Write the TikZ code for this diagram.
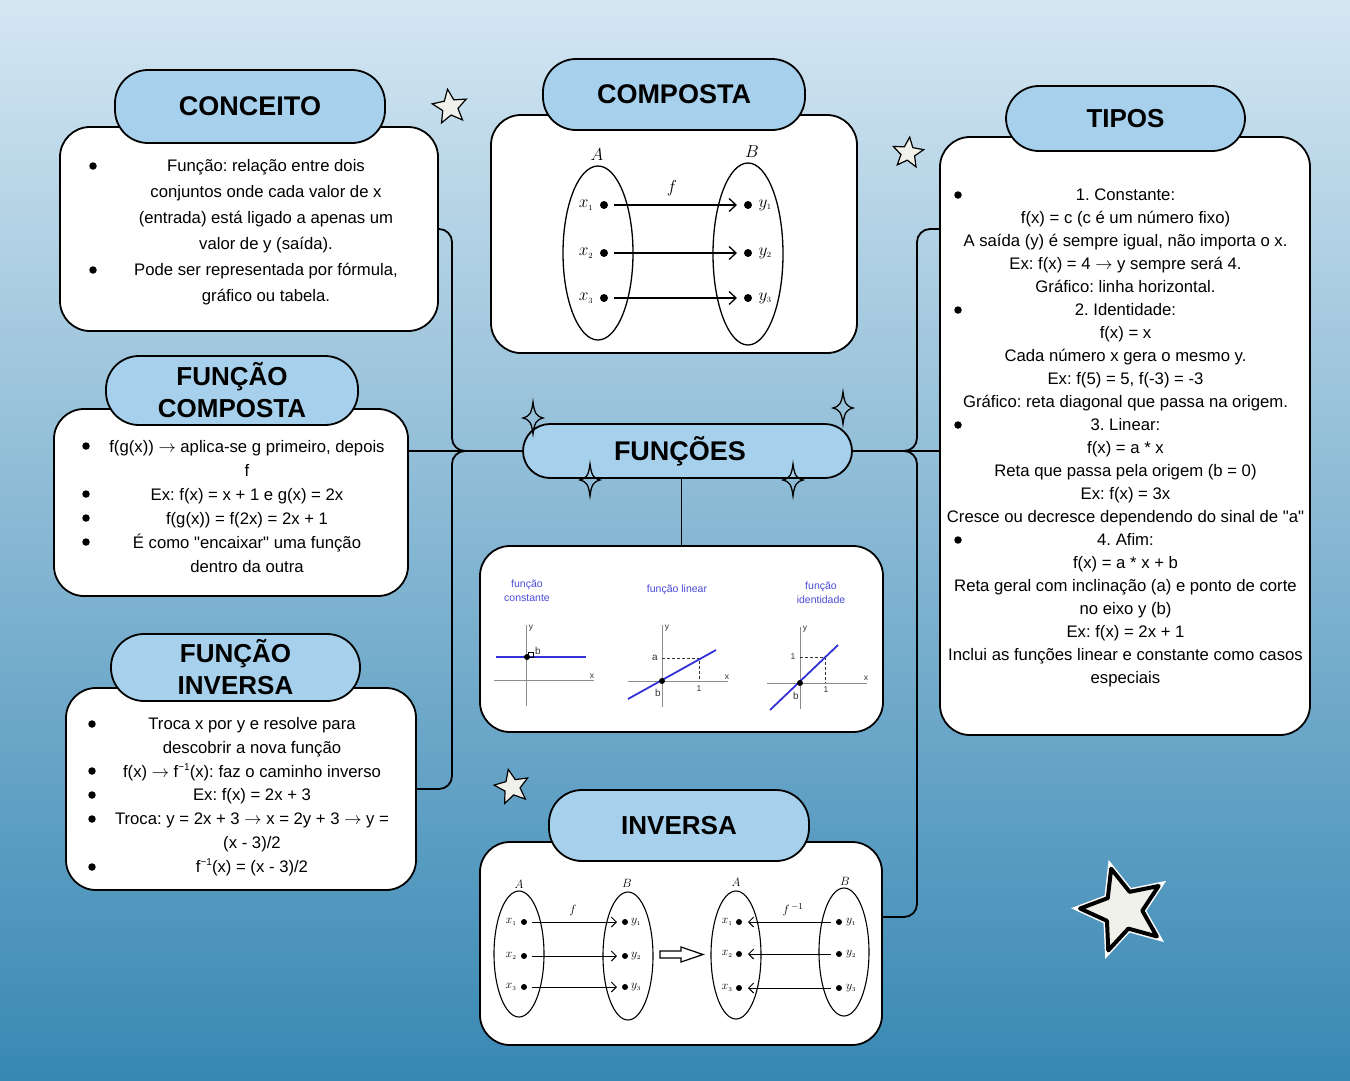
\documentclass[tikz,border=0pt]{standalone}
\usepackage{fontspec}
\setmainfont{Liberation Sans}[Ligatures=TeXOff]
\usetikzlibrary{shapes.geometric,arrows.meta}
\frenchspacing
\newcommand\maparr{\ensuremath{\rightarrow}}
\newcommand\invsup{\raisebox{0.75ex}{\fontsize{10}{10}\selectfont −1}}

\definecolor{bgtop}{RGB}{212,230,242}
\definecolor{bgbot}{RGB}{56,136,180}
\definecolor{pill}{RGB}{166,208,235}
\definecolor{starfill}{RGB}{241,241,235}
\definecolor{plotblue}{RGB}{50,50,215}
\definecolor{labelblue}{RGB}{75,75,215}
\definecolor{axisgray}{RGB}{140,140,140}

\tikzset{
  bodybox/.style={draw=black, line width=1.8pt, fill=white, rounded corners=30pt, inner sep=0pt},
  header/.style={draw=black, line width=1.8pt, fill=pill, rounded corners=33pt, inner sep=0pt,
                 align=center, font=\bfseries\fontsize{27}{32}\selectfont},
  bodytext/.style={align=center, inner sep=0pt},
  bullet/.style={circle, fill=black, minimum size=7.5pt, inner sep=0pt},
  conn/.style={draw=black, line width=1.8pt, rounded corners=13pt},
  setring/.style={draw=black, ellipse, line width=1.3pt, inner sep=0pt},
  setdot/.style={circle, fill=black, minimum size=8pt, inner sep=0pt, outer sep=0pt},
  smalldot/.style={circle, fill=black, minimum size=6pt, inner sep=0pt, outer sep=0pt},
  maparrow/.style={line width=1.3pt, -{Straight Barb[length=7pt,width=13pt,line width=1.3pt]}},
  smallarrow/.style={line width=1pt, -{Straight Barb[length=5pt,width=10pt,line width=1pt]}},
  setlabel/.style={inner sep=0pt, font=\fontsize{18}{18}\selectfont},
  smallsetlabel/.style={inner sep=0pt, font=\fontsize{13}{13}\selectfont},
  axis/.style={draw=axisgray, line width=1pt},
  plotline/.style={draw=plotblue, line width=1.8pt},
  guide/.style={draw=black!80, line width=0.8pt, dashed, dash pattern=on 3pt off 2pt},
  plottitle/.style={inner sep=0pt, text=labelblue, align=center, font=\fontsize{10.5}{14}\selectfont},
  ticklabel/.style={inner sep=0pt, text=black!80, font=\fontsize{8.5}{9}\selectfont},
  sparkle/.pic={\draw[line width=1.3pt] (0,-16) .. controls (1.5,-5) and (3,-2) .. (10,0)
      .. controls (3,2) and (1.5,5) .. (0,16) .. controls (-1.5,5) and (-3,2) .. (-10,0)
      .. controls (-3,-2) and (-1.5,-5) .. (0,-16) -- cycle;},
  fivestar/.pic={\path[pic actions] (-90:1) \foreach \k in {1,...,9}{
      -- ({-90+36*\k}:{mod(\k,2)==1 ? 0.45 : 1}) } -- cycle;},
}

\begin{document}
\begin{tikzpicture}[x=1pt,y=-1pt]
\useasboundingbox (0,0) rectangle (1350,1080);

% background gradient
\begin{scope}[yscale=-1]
  \shade[top color=bgtop, bottom color=bgbot] (0,0) rectangle (1350,-1080);
\end{scope}

% ---------- boxes ----------
\node[bodybox, minimum width=378pt, minimum height=204pt] (concbody) at (249,229) {};
\node[header, minimum width=270pt, minimum height=73pt] (conchead) at (250,106.5) {CONCEITO};

\node[bodybox, minimum width=366pt, minimum height=238pt] (compbody) at (674,234) {};
\node[header, minimum width=262pt, minimum height=71pt] (comphead) at (674,94.5) {COMPOSTA};

\node[bodybox, minimum width=354pt, minimum height=187pt] (fcbody) at (231,502.5) {};
\node[header, minimum width=252pt, minimum height=69pt, font=\bfseries\fontsize{26}{32}\selectfont] (fchead) at (232,390.5) {FUNÇÃO\\COMPOSTA};

\node[bodybox, minimum width=350pt, minimum height=202pt] (fibody) at (241,789) {};
\node[header, minimum width=249pt, minimum height=67pt, font=\bfseries\fontsize{26}{32}\selectfont] (fihead) at (235.5,667.5) {FUNÇÃO\\INVERSA};

\node[bodybox, minimum width=403pt, minimum height=186pt] (graphs) at (681.5,639) {};

\node[bodybox, minimum width=402pt, minimum height=203pt] (invbody) at (681,943.5) {};
\node[header, minimum width=260pt, minimum height=71pt, font=\bfseries\fontsize{26}{32}\selectfont] (invhead) at (679,825.5) {INVERSA};

\node[bodybox, minimum width=370pt, minimum height=598pt] (tiposbody) at (1125,436) {};
\node[header, minimum width=239pt, minimum height=65pt, font=\bfseries\fontsize{26}{32}\selectfont] (tiposhead) at (1125.5,118.5) {TIPOS};

\node[header, minimum width=329pt, minimum height=54pt, rounded corners=27pt, text width=329pt] (funcoes) at (687.5,451) {\hspace*{-15pt}FUNÇÕES};

% ---------- connectors ----------
\coordinate (lup) at (452,229);
\coordinate (ljoin) at (452,451);
\coordinate (lmid) at (474,451);
\coordinate (ldown) at (452,789);
\coordinate (rup) at (917,229);
\coordinate (rjoin) at (917,451);
\coordinate (rmid) at (895,451);
\coordinate (rdown) at (917,917);
\coordinate (invport) at (882,917);
\coordinate (tiposport) at (940,229);

\draw[line width=1.8pt] (funcoes.west) -- (funcoes.west -| fcbody.east);
\draw[line width=1.8pt] (funcoes.east) -- (funcoes.east -| tiposbody.west);
\draw[conn] (concbody.east) -- (lup) -- (ljoin) -- (lmid);
\draw[conn] (lmid) -- (ljoin) -- (ldown) -- (fibody.east);
\draw[conn] (tiposport) -- (rup) -- (rjoin) -- (rmid);
\draw[conn] (rmid) -- (rjoin) -- (rdown) -- (invport);
\draw[line width=1.8pt] (graphs.north) -- (graphs.north |- funcoes.south);

% ---------- body texts ----------
\node[bodytext, font=\fontsize{16.7}{26}\selectfont] (conctxt) at (266,232)
  {Função: relação entre dois\\conjuntos onde cada valor de x\\(entrada) está ligado a apenas um\\valor de y (saída).\\Pode ser representada por fórmula,\\gráfico ou tabela.};
\node[bullet] (cb1) at (93,166) {};
\node[bullet] (cb2) at (93,270) {};

\node[bodytext, font=\fontsize{16.7}{24}\selectfont] (fctxt) at (247,507)
  {f(g(x)) \maparr{} aplica-se g primeiro, depois\\f\\Ex: f(x) = x + 1 e g(x) = 2x\\f(g(x)) = f(2x) = 2x + 1\\É como "encaixar" uma função\\dentro da outra};
\node[bullet] (fb1) at (86,446) {};
\node[bullet] (fb2) at (86,494) {};
\node[bullet] (fb3) at (86,518) {};
\node[bullet] (fb4) at (86,542) {};

\node[bodytext, font=\fontsize{16.7}{23.8}\selectfont] (fitxt) at (252,796.5)
  {Troca x por y e resolve para\\descobrir a nova função\\f(x) \maparr{} f\invsup(x): faz o caminho inverso\\Ex: f(x) = 2x + 3\\Troca: y = 2x + 3 \maparr{} x = 2y + 3 \maparr{} y =\\(x - 3)/2\\f\invsup(x) = (x - 3)/2};
\node[bullet] (ib1) at (92,724) {};
\node[bullet] (ib2) at (92,771) {};
\node[bullet] (ib3) at (92,795) {};
\node[bullet] (ib4) at (92,819) {};
\node[bullet] (ib5) at (92,867) {};

\node[bodytext, font=\fontsize{16.7}{23}\selectfont] (tipostxt) at (1125.5,437.5)
  {1. Constante:\\f(x) = c (c é um número fixo)\\A saída (y) é sempre igual, não importa o x.\\Ex: f(x) = 4 \maparr{} y sempre será 4.\\Gráfico: linha horizontal.\\
   2. Identidade:\\f(x) = x\\Cada número x gera o mesmo y.\\Ex: f(5) = 5, f(-3) = -3\\Gráfico: reta diagonal que passa na origem.\\
   3. Linear:\\f(x) = a * x\\Reta que passa pela origem (b = 0)\\Ex: f(x) = 3x\\Cresce ou decresce dependendo do sinal de "a"\\
   4. Afim:\\f(x) = a * x + b\\Reta geral com inclinação (a) e ponto de corte\\no eixo y (b)\\Ex: f(x) = 2x + 1\\Inclui as funções linear e constante como casos\\especiais};
\node[bullet] (tb1) at (958,195) {};
\node[bullet] (tb2) at (958,310) {};
\node[bullet] (tb3) at (958,425) {};
\node[bullet] (tb4) at (958,540) {};

% ---------- composition diagram ----------
\node[setring, minimum width=70pt, minimum height=174pt] (cA) at (598,253) {};
\node[setring, minimum width=70pt, minimum height=182pt] (cB) at (748,254) {};
\node[setlabel] (cAl) at (597,155) {$A$};
\node[setlabel] (cBl) at (752,152) {$B$};
\node[setlabel] (cf) at (672,188) {$f$};
\foreach \i/\yy in {1/205,2/253,3/298}{
  \node[setdot] (cx\i) at (604,\yy) {};
  \node[setdot] (cy\i) at (748,\yy) {};
  \node[inner sep=0pt, font=\fontsize{17}{17}\selectfont] (cxl\i) at (586,\yy) {$x_{\scriptscriptstyle\i}$};
  \node[inner sep=0pt, font=\fontsize{17}{17}\selectfont] (cyl\i) at (765,\yy) {$y_{\scriptscriptstyle\i}$};
  \draw[maparrow, shorten <=6pt, shorten >=7pt] (cx\i) -- (cy\i);
}

% ---------- function type plots ----------
\node[plottitle] (t1) at (527,591) {função\\constante};
\node[plottitle] (t2) at (677,590) {função linear};
\node[plottitle] (t3) at (821,593) {função\\identidade};

% constant
\draw[axis] (526,706) -- (526,625);
\draw[axis] (494,680) -- (594,680);
\node[ticklabel] (g1y) at (531,628) {y};
\node[ticklabel] (g1x) at (592,676) {x};
\draw[plotline] (496,657) -- (586,657);
\draw[line width=0.5pt] (528,652) rectangle (533,657);
\fill (527,657) circle (3pt);
\node[ticklabel, font=\fontsize{10}{10}\selectfont] (g1b) at (538,651) {b};

% linear
\draw[axis] (662,707) -- (662,625);
\draw[axis] (628,681) -- (728,681);
\node[ticklabel] (g2y) at (667,628) {y};
\node[ticklabel] (g2x) at (727,677) {x};
\draw[guide] (662,658) -- (699,658) -- (699,681);
\draw[plotline] (628,699) -- (716,650);
\fill (662,681) circle (3pt);
\node[ticklabel, font=\fontsize{10}{10}\selectfont] (g2a) at (655,658) {a};
\node[ticklabel] (g2one) at (699,689) {1};
\node[ticklabel, font=\fontsize{10}{10}\selectfont] (g2b) at (658,693) {b};

% identity
\draw[axis] (800,709) -- (800,627);
\draw[axis] (767,683) -- (867,683);
\node[ticklabel] (g3y) at (805,629) {y};
\node[ticklabel] (g3x) at (866,678) {x};
\draw[guide] (800,657) -- (825,657) -- (825,683);
\draw[plotline] (770,710) -- (838,645);
\fill (800,683) circle (3pt);
\node[ticklabel] (g3one) at (793,657) {1};
\node[ticklabel] (g3onex) at (826,690) {1};
\node[ticklabel, font=\fontsize{10}{10}\selectfont] (g3b) at (796,696) {b};

% ---------- inverse diagrams ----------
\node[setring, line width=1.1pt, minimum width=50pt, minimum height=126pt] (iA) at (519,954) {};
\node[setring, line width=1.1pt, minimum width=50pt, minimum height=128pt] (iB) at (628,956) {};
\node[smallsetlabel] (iAl) at (519,884) {$A$};
\node[smallsetlabel] (iBl) at (627,883) {$B$};
\node[smallsetlabel] (ifl) at (573,910) {$f$};
\foreach \i/\yy in {1/922,2/956,3/987}{
  \node[smalldot] (ix\i) at (524,\yy) {};
  \node[smalldot] (iy\i) at (625,\yy) {};
  \node[inner sep=0pt, font=\fontsize{12.5}{12.5}\selectfont] (ixl\i) at (511,\yy) {$x_{\scriptscriptstyle\i}$};
  \node[inner sep=0pt, font=\fontsize{12.5}{12.5}\selectfont] (iyl\i) at (636,\yy) {$y_{\scriptscriptstyle\i}$};
  \draw[smallarrow, shorten <=5pt, shorten >=5pt] (ix\i) -- (iy\i);
}

\draw[line width=1.2pt, fill=white] (660,951) -- (681,951) -- (681,947) -- (703,954.5)
  -- (681,962) -- (681,958) -- (660,958) -- cycle;

\node[setring, line width=1.1pt, minimum width=50pt, minimum height=128pt] (jA) at (736,955) {};
\node[setring, line width=1.1pt, minimum width=50pt, minimum height=128pt] (jB) at (844,952) {};
\node[smallsetlabel] (jAl) at (736,882) {$A$};
\node[smallsetlabel] (jBl) at (845,881) {$B$};
\node[smallsetlabel] (jfl) at (793,910) {$f^{\,-1}$};
\foreach \i/\yy in {1/922,2/954,3/988}{
  \node[smalldot] (jx\i) at (739,\yy) {};
  \node[smalldot] (jy\i) at (839,\yy) {};
  \node[inner sep=0pt, font=\fontsize{12.5}{12.5}\selectfont] (jxl\i) at (727,\yy) {$x_{\scriptscriptstyle\i}$};
  \node[inner sep=0pt, font=\fontsize{12.5}{12.5}\selectfont] (jyl\i) at (851,\yy) {$y_{\scriptscriptstyle\i}$};
  \draw[smallarrow, shorten <=5pt, shorten >=6pt] (jy\i) -- (jx\i);
}

% ---------- decorations ----------
\pic at (533,418) {sparkle};
\pic at (843,408) {sparkle};
\pic at (590,480) {sparkle};
\pic at (793,480) {sparkle};

\pic[draw=black, fill=starfill, line width=1.2pt, scale=18, rotate=8] at (450,107) {fivestar};
\pic[draw=black, fill=starfill, line width=1.2pt, scale=16, rotate=-6] at (908,153) {fivestar};
\pic[draw=black, fill=starfill, line width=1.2pt, scale=18, rotate=12] at (512,787) {fivestar};
\pic[draw=white, line width=7pt, scale=43, rotate=16] at (1123,910) {fivestar};
\pic[draw=black, fill=starfill, line width=4pt, line join=round, scale=43, rotate=16] at (1123,910) {fivestar};

\end{tikzpicture}
\end{document}
